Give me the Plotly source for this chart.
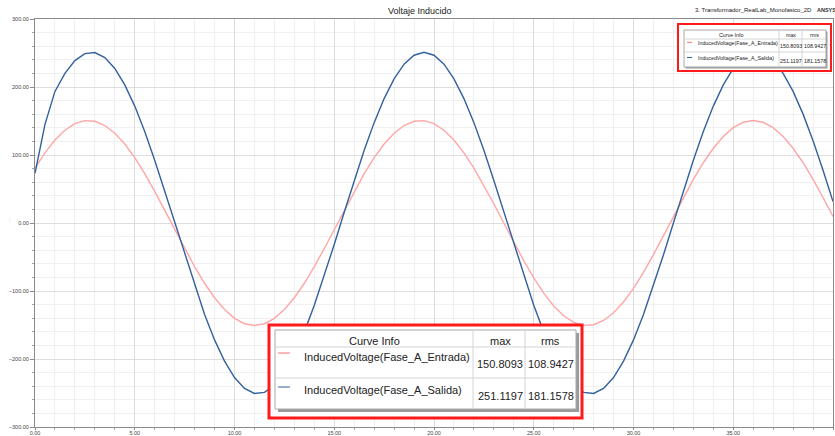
import plotly.graph_objects as go

# ---------------- data ----------------
time_ms = [0.0, 0.5, 1.0, 1.5, 2.0, 2.5, 3.0, 3.5, 4.0, 4.5, 5.0, 5.5, 6.0, 6.5, 7.0, 7.5,
           8.0, 8.5, 9.0, 9.5, 10.0, 10.5, 11.0, 11.5, 12.0, 12.5, 13.0, 13.5, 14.0, 14.5,
           15.0, 15.5, 16.0, 16.5, 17.0, 17.5, 18.0, 18.5, 19.0, 19.5, 20.0, 20.5, 21.0,
           21.5, 22.0, 22.5, 23.0, 23.5, 24.0, 24.5, 25.0, 25.5, 26.0, 26.5, 27.0, 27.5,
           28.0, 28.5, 29.0, 29.5, 30.0, 30.5, 31.0, 31.5, 32.0, 32.5, 33.0, 33.5, 34.0,
           34.5, 35.0, 35.5, 36.0, 36.5, 37.0, 37.5, 38.0, 38.5, 39.0, 39.5, 40.0]

v_entrada = [80.8, 103.2, 122.0, 136.4, 146.1, 150.5, 149.6, 143.4, 132.1, 116.2, 96.1, 72.6,
             46.6, 18.9, -9.5, -37.5, -64.2, -88.6, -109.9, -127.3, -140.2, -148.1, -150.8,
             -148.1, -140.2, -127.3, -109.9, -88.6, -64.2, -37.5, -9.5, 18.9, 46.6, 72.6, 96.1,
             116.2, 132.1, 143.4, 149.6, 150.5, 146.1, 136.4, 122.0, 103.2, 80.8, 55.5, 28.3,
             0.0, -28.3, -55.5, -80.8, -103.2, -122.0, -136.4, -146.1, -150.5, -149.6, -143.4,
             -132.1, -116.2, -96.1, -72.6, -46.6, -18.9, 9.5, 37.5, 64.2, 88.6, 109.9, 127.3,
             140.2, 148.1, 150.8, 148.1, 140.2, 127.3, 109.9, 88.6, 64.2, 37.5, 9.5]

v_salida = [73.0, 145.0, 193.5, 220.0, 238.8, 249.1, 250.6, 243.2, 227.2, 203.1, 171.9, 134.5,
            92.4, 47.1, 0.0, -47.1, -92.4, -134.5, -171.9, -203.1, -227.2, -243.2, -250.6,
            -249.1, -238.8, -220.0, -193.5, -160.1, -121.0, -77.6, -31.5, 15.8, 62.4, 106.9,
            147.6, 183.0, 212.0, 233.5, 246.7, 251.1, 246.7, 233.5, 212.0, 183.0, 147.6, 106.9,
            62.4, 15.8, -31.5, -77.6, -121.0, -160.1, -193.5, -220.0, -238.8, -249.1, -250.6,
            -243.2, -227.2, -203.1, -171.9, -134.5, -92.4, -47.1, 0.0, 47.1, 92.4, 134.5, 171.9,
            203.1, 227.2, 243.2, 250.6, 249.1, 238.8, 220.0, 193.5, 160.1, 121.0, 77.6, 31.5]

curve_names = ["InducedVoltage(Fase_A_Entrada)", "InducedVoltage(Fase_A_Salida)"]
max_vals = [150.8093, 251.1197]
rms_vals = [108.9427, 181.1578]
curve_colors = ["#ffa6a6", "#33609e"]
sample_colors = ["#ff6f6f", "#33609e"]

# ---------------- geometry ----------------
FIG_W, FIG_H = 835, 436
ML, MR, MT, MB = 35, 2, 19, 9
PW, PH = FIG_W - ML - MR, FIG_H - MT - MB


def px(x):
    return (x - ML) / PW


def py(y):
    return 1 - (y - MT) / PH


fig = go.Figure()
for name, ys, col in zip(curve_names, [v_entrada, v_salida], curve_colors):
    fig.add_trace(go.Scatter(x=time_ms, y=ys, mode="lines", name=name,
                             line=dict(color=col, width=1.4), showlegend=False))

shapes = []
annots = []


def rect(x0, y0, x1, y1, line_color=None, width=1, fill=None):
    shapes.append(dict(type="rect", xref="paper", yref="paper",
                       x0=px(x0), x1=px(x1), y0=py(y1), y1=py(y0),
                       line=dict(color=line_color or "rgba(0,0,0,0)", width=width if line_color else 0),
                       fillcolor=fill or "rgba(0,0,0,0)", layer="above"))


def seg(x0, y0, x1, y1, color, width=1):
    shapes.append(dict(type="line", xref="paper", yref="paper",
                       x0=px(x0), x1=px(x1), y0=py(y0), y1=py(y1),
                       line=dict(color=color, width=width), layer="above"))


def text(x, y, s, size, anchor="center", color="#222222", bold=False):
    annots.append(dict(xref="paper", yref="paper", x=px(x), y=py(y), text=("<b>%s</b>" % s) if bold else s,
                       showarrow=False, xanchor=anchor, yanchor="middle",
                       font=dict(size=size, color=color, family="Liberation Sans, Arial, sans-serif")))


def table(box, red, cols, rows, hdr_y, row_name_y, row_val_y, name_x, samp_x, samp_y,
          col_centers, fsize, red_w, shadow):
    x0, y0, x1, y1 = box
    rect(red[0], red[1], red[2], red[3], fill="white")
    rect(x0 + shadow, y0 + shadow, x1 + shadow, y1 + shadow, fill="#9a9a9a")
    rect(x0, y0, x1, y1, line_color="#a8a8a8", width=1, fill="white")
    for cx in cols:
        seg(cx, y0, cx, y1, "#d4d4d4")
    for ry in rows:
        seg(x0, ry, x1, ry, "#d4d4d4")
    rect(red[0], red[1], red[2], red[3], line_color="#ff1a1a", width=red_w)
    text(col_centers[0], hdr_y, "Curve Info", fsize)
    text(col_centers[1], hdr_y, "max", fsize)
    text(col_centers[2], hdr_y, "rms", fsize)
    for i in range(len(curve_names)):
        seg(samp_x[0], samp_y[i], samp_x[1], samp_y[i], sample_colors[i], 1)
        text(name_x, row_name_y[i], curve_names[i], fsize, anchor="left")
        text(col_centers[1], row_val_y[i], "%.4f" % max_vals[i], fsize)
        text(col_centers[2], row_val_y[i], "%.4f" % rms_vals[i], fsize)


# small table (top right)
table(box=(684, 30, 826, 67), red=(678, 24, 831, 71), cols=[779, 802], rows=[39, 52],
      hdr_y=34.7, row_name_y=[42.7, 57.7], row_val_y=[46.3, 61], name_x=696,
      samp_x=(687, 692), samp_y=[42.3, 57.5], col_centers=[731, 790.5, 814.5],
      fsize=5.3, red_w=2, shadow=1.5)

# big table (bottom centre)
table(box=(275, 330, 576, 409), red=(269, 325, 582, 418), cols=[473, 525], rows=[347, 378],
      hdr_y=341, row_name_y=[357, 390], row_val_y=[364, 396], name_x=302,
      samp_x=(278, 290), samp_y=[353, 387], col_centers=[374, 500, 550.5],
      fsize=11, red_w=3, shadow=3)

# title and header texts
annots.append(dict(xref="paper", yref="paper", x=px(420), y=py(11), text="Voltaje Inducido",
                   showarrow=False, xanchor="center", yanchor="middle",
                   font=dict(size=9, color="#222222", family="Liberation Sans, Arial, sans-serif")))
text(693, 10, "3. Transformador_RealLab_Monofasico_2D", 6, anchor="left", color="#222222")
text(815, 9.5, "ANSYS", 5.5, anchor="left", color="#333333", bold=True)
text(9, 219, ":", 5, color="#555555")

axis_font = dict(size=5.5, color="#444444", family="Liberation Sans, Arial, sans-serif")
fig.update_layout(
    width=FIG_W, height=FIG_H,
    margin=dict(l=ML, r=MR, t=MT, b=MB, pad=0),
    paper_bgcolor="white", plot_bgcolor="white",
    shapes=shapes, annotations=annots,
    xaxis=dict(range=[0, 40], dtick=5, tick0=0, tickformat=".2f", tickfont=axis_font,
               showgrid=True, gridcolor="#dddddd", gridwidth=1, zeroline=False,
               showline=True, linecolor="#8a8a8a", linewidth=1, mirror=True,
               ticks="outside", ticklen=2, tickcolor="#8a8a8a", ticklabelstandoff=-2,
               minor=dict(dtick=1, showgrid=True, gridcolor="#f0f0f0", ticks="outside",
                          ticklen=2, tickcolor="#a0a0a0"),
               automargin=False, fixedrange=True),
    yaxis=dict(range=[-300, 300], dtick=100, tick0=0, tickformat=".2f", tickfont=axis_font,
               showgrid=True, gridcolor="#dddddd", gridwidth=1, zeroline=False,
               showline=True, linecolor="#8a8a8a", linewidth=1, mirror=True,
               ticks="outside", ticklen=4, tickcolor="#8a8a8a",
               minor=dict(dtick=20, showgrid=True, gridcolor="#f0f0f0", ticks="outside",
                          ticklen=2, tickcolor="#a0a0a0"),
               automargin=False, fixedrange=True),
)

fig.write_html("out.html", config={"displayModeBar": False},
               post_script="document.body.style.margin='0';document.body.style.padding='0';"
                           "document.body.style.overflow='hidden';")
